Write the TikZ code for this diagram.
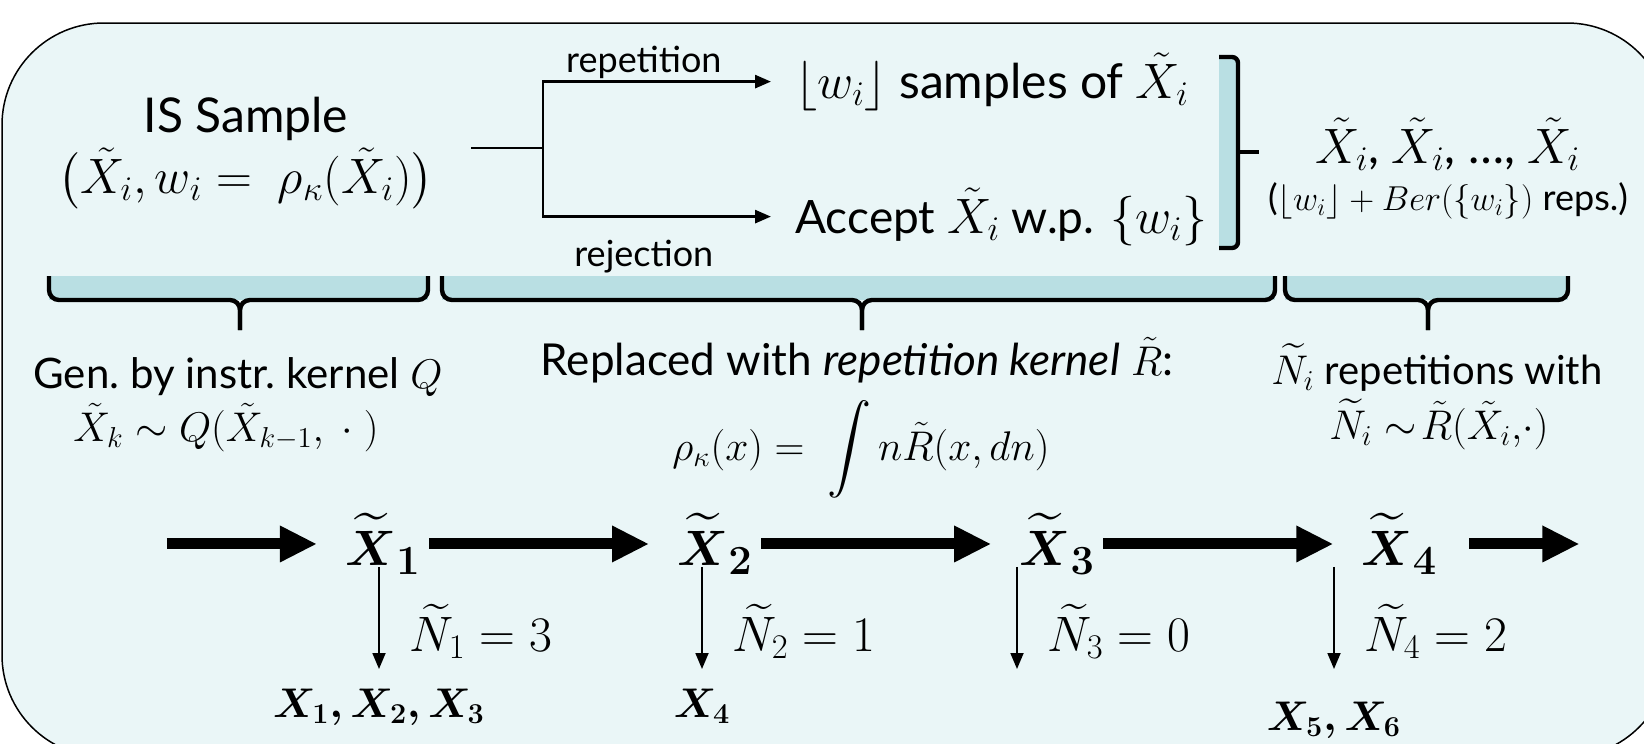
\documentclass[tikz,border=0pt]{standalone}
\usepackage{amsmath,amssymb}
\usepackage{fontspec}
\setmainfont{Lato}
\usepackage{xcolor}
\usepackage{tikz}
\usetikzlibrary{arrows.meta,positioning,calc}
\definecolor{panelbg}{HTML}{EAF6F7}
\definecolor{bandbg}{HTML}{B9DFE3}

\begin{document}
\begin{tikzpicture}[x=0.5pt,y=-0.5pt,
  >={Triangle[length=8pt,width=6.5pt]},
  frame/.style={draw=black,fill=panelbg,line width=0.75pt,rounded corners=51pt},
  txt/.style={font=\fontsize{#1}{#1}\selectfont,inner sep=0pt},
  txt/.default=22,
  mth/.style={font=\fontsize{30}{36}\selectfont,inner sep=0pt},
  bx/.style={font=\fontsize{22}{26}\selectfont,inner sep=0pt},
  lbl/.style={font=\fontsize{23}{27}\selectfont,inner sep=0pt},
  br/.style={line width=1.4pt,shorten >=12pt},
  brc/.style={line width=2.2pt,rounded corners=5pt},
  band/.style={fill=bandbg},
  big/.style={line width=5.5pt,-{Triangle[length=18.5pt,width=17pt]},
              shorten <=4pt,shorten >=14pt},
  dn/.style={line width=0.9pt,->,shorten <=-4pt}]
\useasboundingbox (0,0) rectangle (1644,744);
\draw[frame] (2,23) rectangle (1669,757);
% IS sample and the two ways of reading its weight
\node[txt=24,anchor=base] (is) at (246,132) {IS Sample};
\node[txt=23.5,anchor=base] (isw) at (246,193) {$\bigl(\tilde X_i, w_i =\ \rho_\kappa(\tilde X_i)\bigr)$};
\coordinate (bs) at (471,148);
\coordinate (bj) at (543,148);
\node[txt=24,anchor=base west] (rep) at (795,98) {$\lfloor w_i\rfloor$ samples of $\tilde X_i$};
\node[txt=23,anchor=base west] (acc) at (795,233) {Accept $\tilde X_i$ w.p. $\{w_i\}$};
\draw[br,shorten >=0pt] (bs) -- (bj);
\draw[br,->] (bj) |- node[txt=18,pos=.7,above=1pt]{repetition} (rep);
\draw[br,->] (bj) |- node[txt=18,pos=.7,below=11pt]{rejection} (acc);
\fill[band] (1219,57) rectangle (1238,248);
\draw[brc,rounded corners=3pt] (1219,57) -- (1238,57) -- (1238,248) -- (1219,248);
\draw[brc] (1238,152) -- (1259,152);
\node[txt=24,anchor=base] (xs) at (1448,163) {$\tilde X_i$, $\tilde X_i$, \dots, $\tilde X_i$};
\node[txt=18,anchor=base] (reps) at (1448,210) {($\lfloor w_i\rfloor + Ber(\{w_i\})$ reps.)};
% braces under the top row
\fill[band] (49,276) rectangle (428,300);
\draw[brc] (49,276) -- (49,300) -- (240,300) -- (240,330);
\draw[brc] (240,330) -- (240,300) -- (428,300) -- (428,276);
\fill[band] (442,276) rectangle (1275,300);
\draw[brc] (442,276) -- (442,300) -- (862,300) -- (862,330);
\draw[brc] (862,330) -- (862,300) -- (1275,300) -- (1275,276);
\fill[band] (1285,276) rectangle (1568,300);
\draw[brc] (1285,276) -- (1285,300) -- (1428,300) -- (1428,330);
\draw[brc] (1428,330) -- (1428,300) -- (1568,300) -- (1568,276);
\node[txt=21,anchor=base] (gen) at (238,388) {Gen.\ by instr.\ kernel $Q$};
\node[txt=21,anchor=base] (genq) at (226,441) {$\tilde X_k \sim Q(\tilde X_{k-1},\ \cdot\ )$};
\node[txt=22,anchor=base] (repl) at (857,375) {Replaced with \textit{repetition kernel} $\tilde R$:};
\node[txt=22,anchor=base] (rho) at (861,460) {$\rho_\kappa(x) =\ \displaystyle\int n\tilde R(x,dn)$};
\node[txt=20,anchor=base] (nrep) at (1437,384) {$\widetilde N_i$ repetitions with};
\node[txt=20.5,anchor=base] (ndist) at (1439,439) {$\widetilde N_i \sim\!\tilde R(\tilde X_i,\!\cdot)$};
% the chain
\node[mth,anchor=base] (xt1) at (383,565) {$\widetilde{\boldsymbol X}_{\boldsymbol 1}$};
\node[mth,right=128pt of xt1] (xt2) {$\widetilde{\boldsymbol X}_{\boldsymbol 2}$};
\node[mth,right=133pt of xt2] (xt3) {$\widetilde{\boldsymbol X}_{\boldsymbol 3}$};
\node[mth,right=133pt of xt3] (xt4) {$\widetilde{\boldsymbol X}_{\boldsymbol 4}$};
\coordinate (in) at ([xshift=-93pt]xt1.west);
\coordinate (out) at ([xshift=71pt]xt4.east);
\draw[big] (in) -- (xt1); \draw[big] (xt1) -- (xt2); \draw[big] (xt2) -- (xt3);
\draw[big] (xt3) -- (xt4); \draw[big,shorten <=16pt,shorten >=0pt] (xt4) -- (out);
\node[bx,anchor=base] (xb1) at (379,717) {$\boldsymbol{X_1, X_2, X_3}$};
\node[bx,anchor=base] (xb2) at (702,717) {$\boldsymbol{X_4}$};
\node[bx,anchor=base] (xb4) at (1334,730) {$\boldsymbol{X_5, X_6}$};
\coordinate (d3) at (1017,669);
\draw[dn] (xb1.north |- xt1.south) -- node[lbl,pos=.6,right=15pt]{$\widetilde N_1 = 3$} (xb1.north |- d3);
\draw[dn] (xb2.north |- xt2.south) -- node[lbl,pos=.6,right=15pt]{$\widetilde N_2 = 1$} (xb2.north |- d3);
\draw[dn] (d3 |- xt3.south) -- node[lbl,pos=.6,right=15pt]{$\widetilde N_3 = 0$} (d3);
\draw[dn] (xb4.north |- xt4.south) -- node[lbl,pos=.6,right=15pt]{$\widetilde N_4 = 2$} (xb4.north |- d3);
\end{tikzpicture}
\end{document}
